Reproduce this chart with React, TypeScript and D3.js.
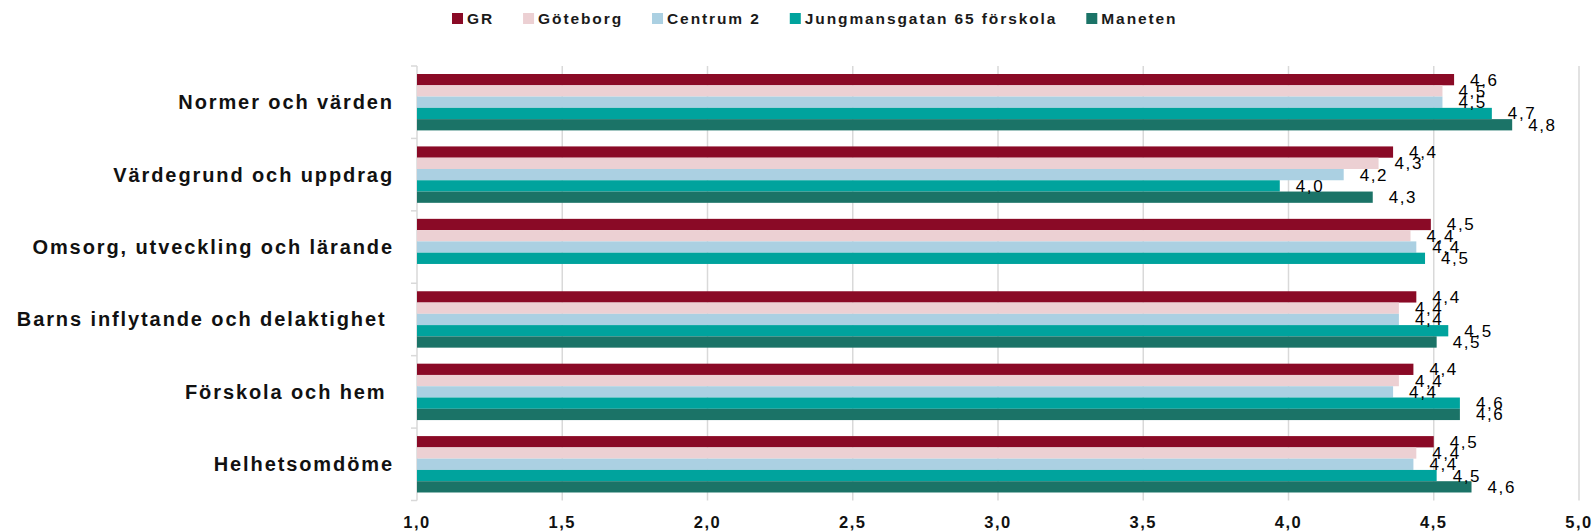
import * as d3 from 'd3';
import { useLayoutEffect, useRef, useState } from 'react';

const categories = [
  'Normer och värden',
  'Värdegrund och uppdrag',
  'Omsorg, utveckling och lärande',
  'Barns inflytande och delaktighet ',
  'Förskola och hem ',
  'Helhetsomdöme',
];

const seriesNames = ['GR', 'Göteborg', 'Centrum 2', 'Jungmansgatan 65 förskola', 'Maneten'];
const seriesColors = ['#8a0a26', '#ecd0d3', '#abd0e2', '#00a39d', '#1b7367'];

const grValues = [4.57, 4.36, 4.49, 4.44, 4.43, 4.5];
const goteborgValues = [4.53, 4.31, 4.42, 4.38, 4.38, 4.44];
const centrumValues = [4.53, 4.19, 4.44, 4.38, 4.36, 4.43];
const jungmansValues = [4.7, 3.97, 4.47, 4.55, 4.59, 4.51];
const manetenValues: (number | null)[] = [4.77, 4.29, null, 4.51, 4.59, 4.63];

const xTicks = [1, 1.5, 2, 2.5, 3, 3.5, 4, 4.5, 5];

const allSeries = [grValues, goteborgValues, centrumValues, jungmansValues, manetenValues];

const width = 1595;
const height = 532;
const marginLeft = 417;
const marginRight = 16;
const marginTop = 66;
const marginBottom = 31.5;

const fmt = (v: number) => d3.format('.1f')(v).replace('.', ',');
const font = '"Liberation Sans", Arial, sans-serif';

function Legend() {
  const refs = useRef<(SVGTextElement | null)[]>([]);
  const [widths, setWidths] = useState<number[]>(seriesNames.map(() => 0));

  useLayoutEffect(() => {
    setWidths(refs.current.map((t) => (t ? t.getComputedTextLength() : 0)));
  }, []);

  const box = 11;
  const gapText = 4;
  const gapItem = 29;
  const itemW = widths.map((w) => box + gapText + w);
  const offsets: number[] = [];
  itemW.forEach((w, i) => {
    offsets.push(i === 0 ? 452 : offsets[i - 1] + itemW[i - 1] + gapItem);
  });

  return (
    <g>
      {seriesNames.map((s, i) => (
        <g key={s} transform={`translate(${offsets[i]},18.5)`}>
          <rect x={0} y={-box / 2} width={box} height={box} fill={seriesColors[i]} />
          <text
            ref={(el) => {
              refs.current[i] = el;
            }}
            x={box + gapText}
            dy='0.35em'
            fontFamily={font}
            fontWeight='bold'
            fontSize={15.5}
            letterSpacing={1.9}
            fill='#1a1a1a'
          >
            {s}
          </text>
        </g>
      ))}
    </g>
  );
}

export default function App() {
  const x = d3.scaleLinear([1, 5], [marginLeft, width - marginRight]);
  const y0 = d3
    .scaleBand<string>()
    .domain(categories)
    .range([marginTop, height - marginBottom]);
  const y1 = d3
    .scaleBand<string>()
    .domain(seriesNames)
    .range([0, y0.bandwidth()])
    .paddingOuter(0.71);

  const bottom = height - marginBottom;

  return (
    <div style={{ position: 'absolute', left: 0, top: 0 }}>
      <svg width={width} height={height} style={{ display: 'block', background: '#fff' }}>
        <Legend />

        {/* grid */}
        <g stroke='#d9d9d9' strokeWidth={1.5}>
          {xTicks.map((t) => (
            <line key={t} x1={x(t)} x2={x(t)} y1={marginTop} y2={bottom} />
          ))}
          {[...categories.map((c) => y0(c)!), bottom].map((yy, i) => (
            <line key={'tk' + i} x1={marginLeft - 6} x2={marginLeft} y1={yy} y2={yy} />
          ))}
        </g>

        {/* bars */}
        {categories.map((c, ci) => (
          <g key={c} transform={`translate(0,${y0(c)})`}>
            {allSeries.map((vals, si) => {
              const v = vals[ci];
              if (v == null) return null;
              const yy = y1(seriesNames[si])!;
              return (
                <rect
                  key={si}
                  x={x(1)}
                  y={yy}
                  width={x(v) - x(1)}
                  height={y1.bandwidth()}
                  fill={seriesColors[si]}
                />
              );
            })}
            {allSeries.map((vals, si) => {
              const v = vals[ci];
              if (v == null) return null;
              const yy = y1(seriesNames[si])! + y1.bandwidth() / 2;
              return (
                <text
                  key={'l' + si}
                  x={x(v) + 16}
                  y={yy}
                  dy='0.35em'
                  fontFamily={font}
                  fontSize={17}
                  letterSpacing={1.6}
                  fill='#000'
                >
                  {fmt(v)}
                </text>
              );
            })}
          </g>
        ))}

        {/* category labels */}
        {categories.map((c) => (
          <text
            key={c}
            x={394}
            y={y0(c)! + y0.bandwidth() / 2}
            dy='0.35em'
            textAnchor='end'
            fontFamily={font}
            fontWeight='bold'
            fontSize={20}
            letterSpacing={1.9}
            fill='#111'
            style={{ whiteSpace: 'pre' }}
          >
            {c}
          </text>
        ))}

        {/* x tick labels */}
        {xTicks.map((t) => (
          <text
            key={t}
            x={x(t)}
            y={528}
            textAnchor='middle'
            fontFamily={font}
            fontWeight='bold'
            fontSize={16.5}
            letterSpacing={1.5}
            fill='#111'
          >
            {fmt(t)}
          </text>
        ))}
      </svg>
    </div>
  );
}
